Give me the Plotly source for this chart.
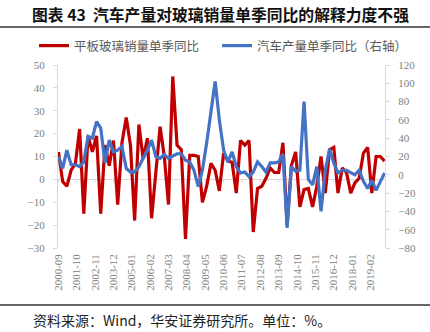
import plotly.graph_objects as go

# ---- data ----
start_year, start_month, n_q = 2000, 9, 78
dates = []
y, m = start_year, start_month
for _ in range(n_q):
    dates.append(f"{y:04d}-{m:02d}-01")
    m += 3
    if m > 12:
        m -= 12
        y += 1

glass_yoy = [12, -1, -3, 4, 7, 22, -15, 19, 12, 19,
             -15, 15, 6, 17, -11, 16, 27, 15, -18, 24,
             9, 18, -17, 3, 23, 10, -11, 45, 15, 13,
             -26, 10.5, 10.5, 10, -10, -3, 7, 4, -5, 11.5,
             8, 7.5, -6, 17, 15, 17, -23, -4, -3, 0.5,
             5, 3, 3, 16, -20, 6, 12, -12, -4.5, -4,
             -12, -3, 10, -6, 13, 14, -6, 5, 3, -6,
             -1.5, 0.5, 11.5, 14, -6, 10, 10, 8]

auto_yoy = [20, 7, 27, 11, 11, 9, 14, 42, 40, 58,
            51, 13, 38, 25, 27, 31, 7, 3, 3, 9,
            18, 27, 38, 20, 18, 22, 18, 21, 23, 23,
            16, 14, 5, -13, 5, 35, 71, 102, 60, 27,
            14, 25, 9, 2, 3, -2, 3, 14, 9, 3,
            13, 13, 14, 23, -58, 9, 4, 5, 80, -5,
            -11, 9, -40, 5, 28, 13, 2, 5, 5, 2,
            0, 5, -7, -15, -6, -17, -8, 2]

tick_labels = ["2000-09", "2001-10", "2002-11", "2003-12", "2005-01", "2006-02",
               "2007-03", "2008-04", "2009-05", "2010-06", "2011-07", "2012-08",
               "2013-09", "2014-10", "2015-11", "2016-12", "2018-01", "2019-02"]
tick_vals = [t + "-01" for t in tick_labels]

left_ticks = [-30, -20, -10, 0, 10, 20, 30, 40, 50]
right_ticks = [-80, -60, -40, -20, 0, 20, 40, 60, 80, 100, 120]

name_glass = "平板玻璃销量单季同比"
name_auto = "汽车产量单季同比（右轴）"
title_text = "图表 43  汽车产量对玻璃销量单季同比的解释力度不强"
source_text = "资料来源：Wind，华安证券研究所。单位：%。"

# ---- figure ----
W, H = 430, 332
L, R, T, B = 58, 385, 65, 248
pw, ph = R - L, B - T


def px(xp):
    return (xp - L) / pw


def py(yp):
    return (B - yp) / ph


fig = go.Figure()
fig.add_trace(go.Scatter(x=dates, y=glass_yoy, mode="lines", name=name_glass,
                         line=dict(color="#C00000", width=3.2), yaxis="y"))
fig.add_trace(go.Scatter(x=dates, y=auto_yoy, mode="lines", name=name_auto,
                         line=dict(color="#4472C4", width=3.2), yaxis="y2"))

tick_font = dict(family="Liberation Serif, serif", size=11, color="#808080")
cjk = "Noto Sans CJK SC, sans-serif"

# small tick marks hanging below the zero line at each category label
zero_ticks = [dict(type="line", xref="x", yref="y", x0=tv, x1=tv, y0=0, y1=-1.5,
                   line=dict(color="#d9d9d9", width=1), layer="below")
              for tv in tick_vals]

fig.update_layout(
    width=W, height=H,
    margin=dict(l=L, r=W - R, t=T, b=H - B, pad=0),
    paper_bgcolor="white", plot_bgcolor="white",
    showlegend=True,
    legend=dict(orientation="h", x=px(34), y=py(46), xanchor="left", yanchor="middle",
                font=dict(family=cjk, size=12.5, color="#595959"),
                bgcolor="rgba(0,0,0,0)", itemwidth=30, tracegroupgap=0,
                entrywidth=138, entrywidthmode="pixels"),
    xaxis=dict(type="date", range=["2000-08-22", "2019-12-10"],
               tickmode="array", tickvals=tick_vals, ticktext=tick_labels,
               tickangle=-90, tickfont=tick_font, showgrid=False, zeroline=False,
               showline=False, ticks="", ticklabelstandoff=3),
    yaxis=dict(range=[-30, 50], tickmode="array", tickvals=left_ticks,
               tickfont=tick_font, showgrid=False, zeroline=True,
               zerolinecolor="#d9d9d9", zerolinewidth=1,
               showline=True, linecolor="#d9d9d9", linewidth=1,
               ticks="outside", ticklen=4, tickcolor="#d9d9d9",
               ticklabelstandoff=6),
    yaxis2=dict(range=[-80, 120], tickmode="array", tickvals=right_ticks,
                overlaying="y", side="right", tickfont=tick_font,
                showgrid=False, zeroline=False,
                showline=True, linecolor="#d9d9d9", linewidth=1,
                ticks="outside", ticklen=4, tickcolor="#d9d9d9",
                ticklabelstandoff=6),
    shapes=[
        dict(type="line", xref="paper", yref="paper", x0=px(0), x1=px(430),
             y0=py(27), y1=py(27), line=dict(color="#333333", width=1.3)),
        dict(type="line", xref="paper", yref="paper", x0=px(0), x1=px(430),
             y0=py(305), y1=py(305), line=dict(color="#333333", width=1.3)),
    ] + zero_ticks,
    annotations=[
        dict(text="<b>" + title_text + "</b>", xref="paper", yref="paper",
             x=px(30), y=py(15), xanchor="left", yanchor="middle", showarrow=False,
             font=dict(family=cjk, size=15.8, color="#111111")),
        dict(text=source_text, xref="paper", yref="paper",
             x=px(31), y=py(320), xanchor="left", yanchor="middle", showarrow=False,
             font=dict(family=cjk, size=14, color="#222222")),
    ],
)

fig.write_html("out.html")
